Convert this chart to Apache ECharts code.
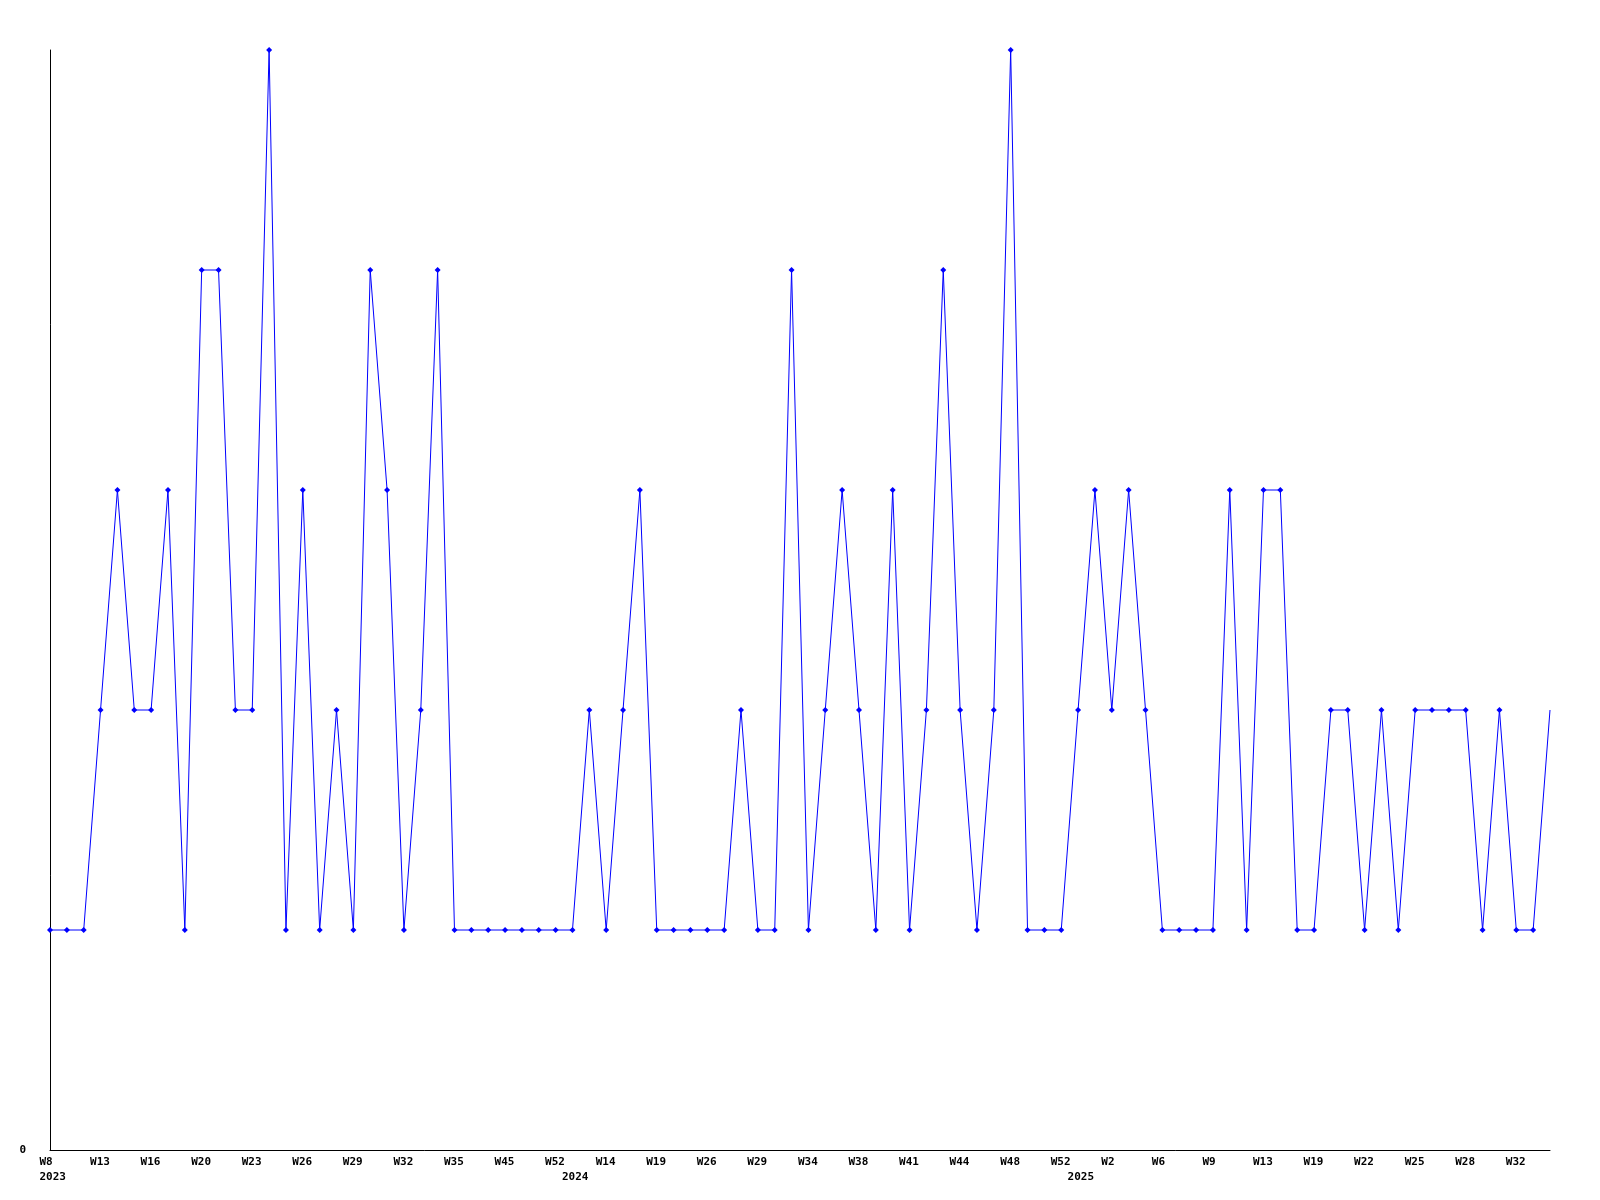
<!DOCTYPE html>
<html>
<head>
<meta charset="utf-8">
<script src="https://cdn.jsdelivr.net/npm/echarts@6/dist/echarts.min.js"></script>
<style>html,body{margin:0;padding:0;background:#fff}#c{width:1600px;height:1200px}</style>
</head>
<body>
<div id="c"></div>
<script>
// Week of each point (year, week label)
const pointYears = [
  2023,2023,2023,2023,2023,2023,2023,2023,2023,2023,2023,2023,2023,2023,2023,2023,2023,2023,2023,2023,2023,2023,2023,2023,2023,2023,2023,2023,2023,2023,2023,
  2024,2024,2024,2024,2024,2024,2024,2024,2024,2024,2024,2024,2024,2024,2024,2024,2024,2024,2024,2024,2024,2024,2024,2024,2024,2024,2024,2024,2024,2024,
  2025,2025,2025,2025,2025,2025,2025,2025,2025,2025,2025,2025,2025,2025,2025,2025,2025,2025,2025,2025,2025,2025,2025,2025,2025,2025,2025,2025,2025
];
const weekLabels = [
  'W8','W10','W11','W13','W14','W15','W16','W17','W18','W20','W21','W22','W23','W24','W25','W26','W27','W28','W29','W30','W31','W32','W33','W34','W35','W38','W41','W45','W48','W50','W52',
  'W2','W9','W14','W16','W17','W19','W21','W24','W26','W27','W28','W29','W31','W33','W34','W35','W37','W38','W39','W40','W41','W42','W43','W44','W46','W47','W48','W49','W51','W52',
  'W0','W1','W2','W3','W5','W6','W7','W8','W9','W10','W12','W13','W15','W17','W19','W20','W21','W22','W23','W24','W25','W26','W27','W28','W29','W31','W32','W33','W34'
];
const values = [
  1,1,1,2,3,2,2,3,1,4,4,2,2,5,1,3,1,2,1,4,3,1,2,4,1,1,1,1,1,1,1,
  1,2,1,2,3,1,1,1,1,1,2,1,1,4,1,2,3,2,1,3,1,2,4,2,1,2,5,1,1,1,
  2,3,2,3,2,1,1,1,1,3,1,3,3,1,1,2,2,1,2,1,2,2,2,2,1,2,1,1,2
];
const yTickLabels = ['0'];

const categories = weekLabels.map((w, i) => pointYears[i] + '-' + w);
const yearStart = pointYears.map((y, i) => i === 0 || pointYears[i - 1] !== y);
const lastIdx = values.length - 1;

const chart = echarts.init(document.getElementById('c'), null, {renderer: 'canvas'});
chart.setOption({
  animation: false,
  backgroundColor: '#ffffff',
  grid: {left: 50, right: 50, top: 50, bottom: 50, containLabel: false},
  xAxis: {
    type: 'category',
    data: categories,
    boundaryGap: false,
    axisLine: {show: true, lineStyle: {color: '#000', width: 1}},
    axisTick: {show: false},
    splitLine: {show: false},
    axisLabel: {
      interval: function (i) { return i % 3 === 0 || yearStart[i]; },
      margin: 5,
      align: 'center',
      formatter: function (val, i) {
        const w = (i % 3 === 0) ? weekLabels[i] : ' ';
        let s = '{a|' + w + '}';
        if (yearStart[i]) s += '\n{a|' + pointYears[i] + '}';
        return s;
      },
      rich: {
        a: {width: 21, align: 'left', fontFamily: 'DejaVu Sans Mono', fontWeight: 'bold', fontSize: 11, color: '#000', lineHeight: 15}
      }
    }
  },
  yAxis: {
    type: 'value',
    min: 0, max: 5, interval: 5,
    axisLine: {show: true, lineStyle: {color: '#000', width: 1}},
    axisTick: {show: false},
    splitLine: {show: false},
    axisLabel: {
      margin: 24,
      fontFamily: 'DejaVu Sans Mono', fontWeight: 'bold', fontSize: 11, color: '#000',
      formatter: function (v) { return v === 0 ? yTickLabels[0] : ''; }
    }
  },
  series: [{
    type: 'line',
    data: values.map((v, i) => i === lastIdx ? {value: v, symbol: 'none'} : v),
    symbol: 'diamond',
    symbolSize: 6,
    showAllSymbol: true,
    lineStyle: {color: '#0000ff', width: 1},
    itemStyle: {color: '#0000ff'},
    clip: false
  }]
});
</script>
</body>
</html>
